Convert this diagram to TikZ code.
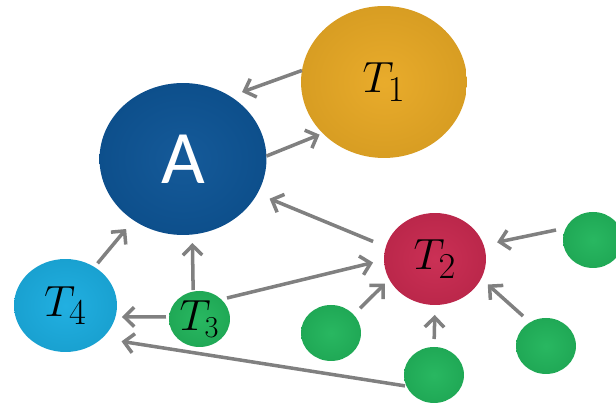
\documentclass[tikz,border=0pt]{standalone}
\usepackage{fontspec}
\newfontfamily\labelsans{Carlito}
\usetikzlibrary{shapes.geometric,arrows.meta}
\definecolor{ablue}{HTML}{0E5596}
\definecolor{tgold}{HTML}{E8A925}
\definecolor{tred}{HTML}{C92A50}
\definecolor{tsky}{HTML}{1BADE0}
\definecolor{tgreen}{HTML}{22B55C}
\definecolor{arrgray}{HTML}{808080}
\begin{document}
\begin{tikzpicture}[x=0.02cm,y=-0.02cm,
  ball/.style={ellipse, inner sep=-8pt, outer sep=0pt, shading=radial,
    inner color=#1!97!white, outer color=#1!93!black},
  tlabel/.style={font=\fontsize{31}{34}\selectfont},
  arr/.style={draw=arrgray, line width=2pt, -{Straight Barb[length=5.5pt,width=11pt]}}]
\useasboundingbox (0,0) rectangle (616,404);
% nodes
\node[ball=ablue, minimum width=3.34cm, minimum height=3.04cm,
  font=\labelsans\fontsize{43}{45}\selectfont, text=white] (A) at (183,159) {A};
\node[ball=tgold, minimum width=3.32cm, minimum height=3.04cm, tlabel] (T1) at (384,82) {$T_1$};
\node[ball=tred, minimum width=2.04cm, minimum height=1.84cm, tlabel] (T2) at (435,259) {$T_2$};
\node[ball=tsky, minimum width=2.06cm, minimum height=1.86cm, tlabel] (T4) at (65.5,305.5) {$T_4$};
\node[ball=tgreen, minimum width=1.22cm, minimum height=1.12cm,
  font=\fontsize{26}{28}\selectfont] (T3) at (199.5,319) {$T_3$};
\node[ball=tgreen, minimum width=1.2cm, minimum height=1.12cm] (G1) at (331,333) {};
\node[ball=tgreen, minimum width=1.2cm, minimum height=1.12cm] (G2) at (434,375) {};
\node[ball=tgreen, minimum width=1.2cm, minimum height=1.12cm] (G3) at (546,346) {};
\node[ball=tgreen, minimum width=1.2cm, minimum height=1.12cm] (G4) at (593,240) {};
% connectors
\draw[arr, shorten >=0.252cm] (T1.172.5) -- (A.53.1);
\draw[arr, shorten >=0.07cm] (A.2.7) -- (T1.220.5);
\draw[arr, shorten <=0.276cm, shorten >=0.266cm] (T2.166.8) -- (A.335.7);
\draw[arr, shorten <=0.098cm, shorten >=0.23cm] (T4.53.9) -- (A.231.1);
\draw[arr, shorten <=0.032cm, shorten >=0.17cm] (T3.103.4) -- (A.277.5);
\draw[arr, shorten <=0.062cm, shorten >=0.132cm] (T3.176.2) -- (T4.347);
\draw[arr, shorten <=0.03cm, shorten >=0.396cm] (G2.202.2) -- (T4.318.8);
\draw[arr, shorten <=0.118cm, shorten >=0.226cm] (T3.42) -- (T2.181.5);
\draw[arr, shorten <=0.183cm, shorten >=0.124cm] (G1.39.8) -- (T2.204.5);
\draw[arr, shorten <=0.16cm, shorten >=0.2cm] (G2.90) -- (T2.270);
\draw[arr, shorten <=0.188cm, shorten >=0.178cm] (G3.124.2) -- (T2.337.7);
\draw[arr, shorten <=0.202cm, shorten >=0.276cm] (G4.156.1) -- (T2.16.4);
\end{tikzpicture}
\end{document}
